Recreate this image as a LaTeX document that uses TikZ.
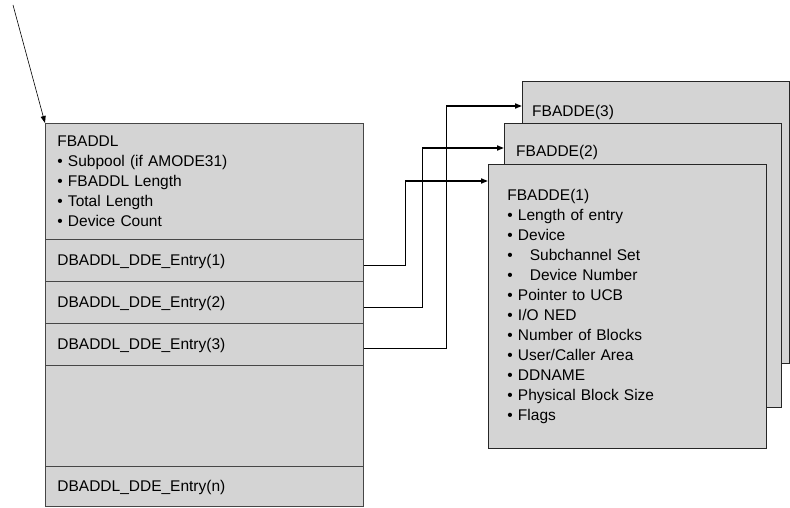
\documentclass[tikz,border=0pt]{standalone}
\usepackage{fontspec}
\setmainfont{Liberation Sans}
\usetikzlibrary{arrows.meta}

\definecolor{boxgray}{RGB}{212,212,212}
\definecolor{edgegray}{RGB}{70,70,70}

\begin{document}
\begin{tikzpicture}[
  x=1pt, y=-1pt,
  font=\fontsize{15.5}{20}\selectfont,
  cell/.style  ={rectangle, draw=edgegray, fill=boxgray, line width=0.8pt,
                 anchor=north west, minimum width=318pt,
                 text width=294pt, inner xsep=12pt, align=left},
  entry/.style ={cell, minimum height=42pt, text depth=1pt},
  page/.style  ={rectangle, draw=black!85, fill=boxgray, line width=0.8pt,
                 anchor=north west},
  title/.style ={anchor=north west, inner sep=0pt},
  ptr/.style   ={-{Triangle[length=7pt,width=5pt]}, line width=0.6pt},
  stub/.style  ={line width=0.7pt},
  link/.style  ={-{Triangle[length=7pt,width=5pt]}, line width=1.6pt}
]
\useasboundingbox (0,0) rectangle (790,508);

% ---------- FBADDL list ----------
\node[cell, minimum height=116pt] (head) at (45,123)
  {FBADDL\\
   • Subpool (if AMODE31)\\
   • FBADDL Length\\
   • Total Length\\
   • Device Count};
\node[entry] (e1) at (45,239) {DBADDL\_DDE\_Entry(1)};
\node[entry] (e2) at (45,281) {DBADDL\_DDE\_Entry(2)};
\node[entry] (e3) at (45,323) {DBADDL\_DDE\_Entry(3)};
\node[cell, minimum height=101pt] (gap) at (45,365) {};
\node[cell, minimum height=40pt, text depth=1pt] (en) at (45,466) {DBADDL\_DDE\_Entry(n)};

% ---------- FBADDE stack ----------
\node[page, minimum width=267pt, minimum height=282pt,
      label={[title, xshift=10pt, yshift=-24pt]north west:FBADDE(3)}] (d3) at (522,81) {};
\node[page, minimum width=277pt, minimum height=284pt,
      label={[title, xshift=12pt, yshift=-22pt]north west:FBADDE(2)}] (d2) at (504,123) {};
\node[page, minimum width=276pt, minimum height=284pt,
      text width=240pt, inner xsep=19pt, align=left] (d1) at (488,164)
  {FBADDE(1)\\
   • Length of entry\\
   • Device\\
   •\hspace{1.1em}Subchannel Set\\
   •\hspace{1.1em}Device Number\\
   • Pointer to UCB\\
   • I/O NED\\
   • Number of Blocks\\
   • User/Caller Area\\
   • DDNAME\\
   • Physical Block Size\\
   • Flags};

% ---------- Arrows ----------
\coordinate (src) at (13,5);
\draw[ptr] (src) -- (head.north west);

\coordinate (k1) at (405,181);
\coordinate (k2) at (422,148);
\coordinate (k3) at (446,106);

\draw[stub] ([yshift=-5pt]e1.east) -| (k1);
\draw[link] (k1) -- (k1 -| d1.west);
\draw[stub] ([yshift=-5pt]e2.east) -| (k2);
\draw[link] (k2) -- (k2 -| d2.west);
\draw[stub] ([yshift=-4pt]e3.east) -| (k3);
\draw[link] (k3) -- (k3 -| d3.west);

\end{tikzpicture}
\end{document}
